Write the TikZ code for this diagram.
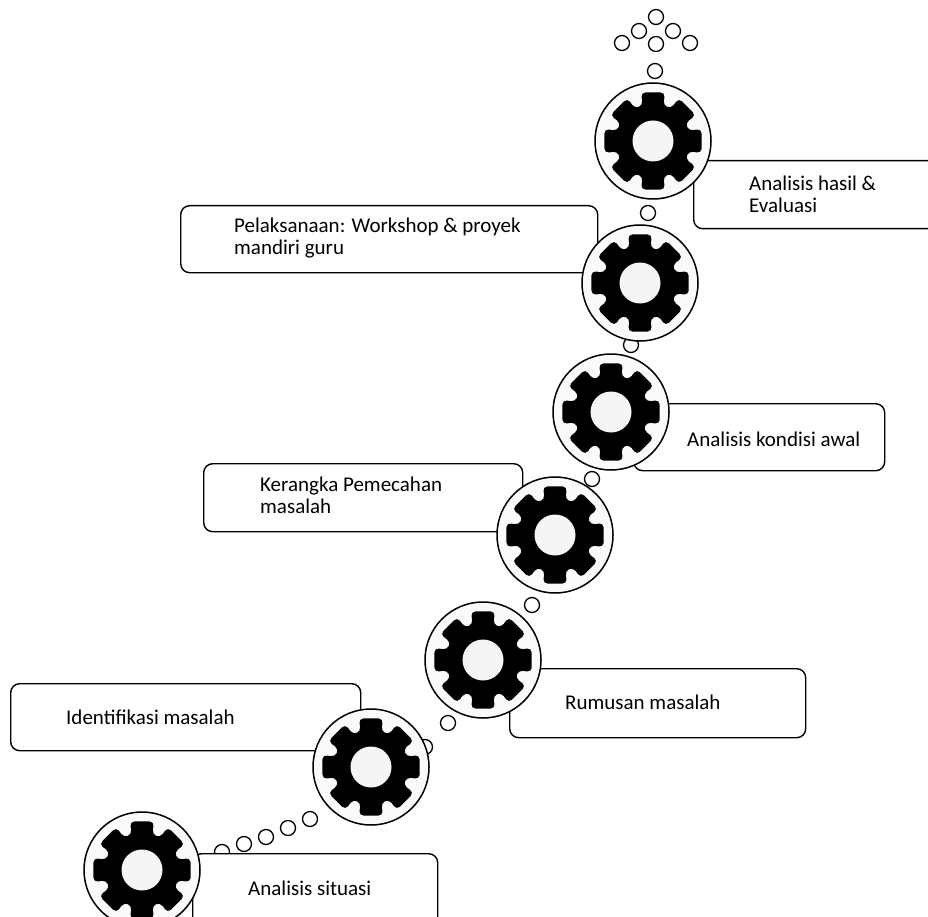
\documentclass[tikz,border=0pt]{standalone}
\usepackage{fontspec}
\setmainfont{Carlito}
\tikzset{
  x=1pt,y=-1pt,
  bubble/.style={circle,draw=black,line width=1.3pt,fill=white,minimum size=15pt,inner sep=0pt},
  hub/.style={circle,draw=black,line width=1.5pt,fill=black!2,minimum size=116pt,inner sep=0pt},
  callout/.style={draw=black,line width=1.4pt,fill=white,rounded corners=9pt},
  caption/.style={anchor=west,align=left,inner sep=0pt,font=\fontsize{21}{22}\selectfont},
  cog/.pic={
    \fill[black,rounded corners=4.5pt] (-14:50pt)
      \foreach \a in {0,45,...,315}{ -- (\a-14:50pt) -- (\a+14:50pt) -- (\a+16:37pt) -- (\a+45-16:37pt) } -- cycle;
    \fill[black!4] (0,0) circle (20.5pt);
  }
}
\newcommand{\panel}[5]{\node[callout,minimum width=#3pt,minimum height=#4pt,anchor=north west,inner sep=0pt] (#5) at (#1,#2) {};}
\begin{document}
\begin{tikzpicture}
\useasboundingbox (0,0) rectangle (928,917);
\begin{scope}
\clip (0,0) rectangle (928,917);
% bubbles
\foreach \n/\x/\y in {a/656/17,b/639/31,c/673/31,d/622/43,e/656/44,f/690/43,g/655/71,h/648/213,i/631/345,j/592/479,k/532/605,l/448/723,m/425/747,n/310/819,o/288/828,p/266/837,q/244/844,r/222/852}
  \node[bubble] (b\n) at (\x,\y) {};
% panels
\panel{693}{160}{260}{68}{p1}
\panel{180}{205}{417}{67}{p2}
\panel{633}{403}{251}{67}{p3}
\panel{203}{463}{319}{68}{p4}
\panel{509}{668}{296}{69}{p5}
\panel{10}{683}{350}{67}{p6}
\panel{192}{853}{245}{80}{p7}
% gears
\foreach \n/\x/\y in {1/653/141,2/640/283,3/611/412,4/555/535,5/483/660,6/371/767,7/142/870}{
  \node[hub] (g\n) at (\x,\y) {};
  \pic at (g\n.center) {cog};
}
\end{scope}
% captions
\node[caption] (t1) at (749,194) {Analisis hasil \&\\Evaluasi};
\node[caption] (t2) at (234,238) {Pelaksanaan: Workshop \& proyek\\mandiri guru};
\node[caption] (t3) at (687,439) {Analisis kondisi awal};
\node[caption] (t4) at (260,495) {Kerangka Pemecahan\\masalah};
\node[caption] (t5) at (565,702) {Rumusan masalah};
\node[caption] (t6) at (66,717) {Identifikasi masalah};
\node[caption] (t7) at (248,888) {Analisis situasi};
\end{tikzpicture}
\end{document}
